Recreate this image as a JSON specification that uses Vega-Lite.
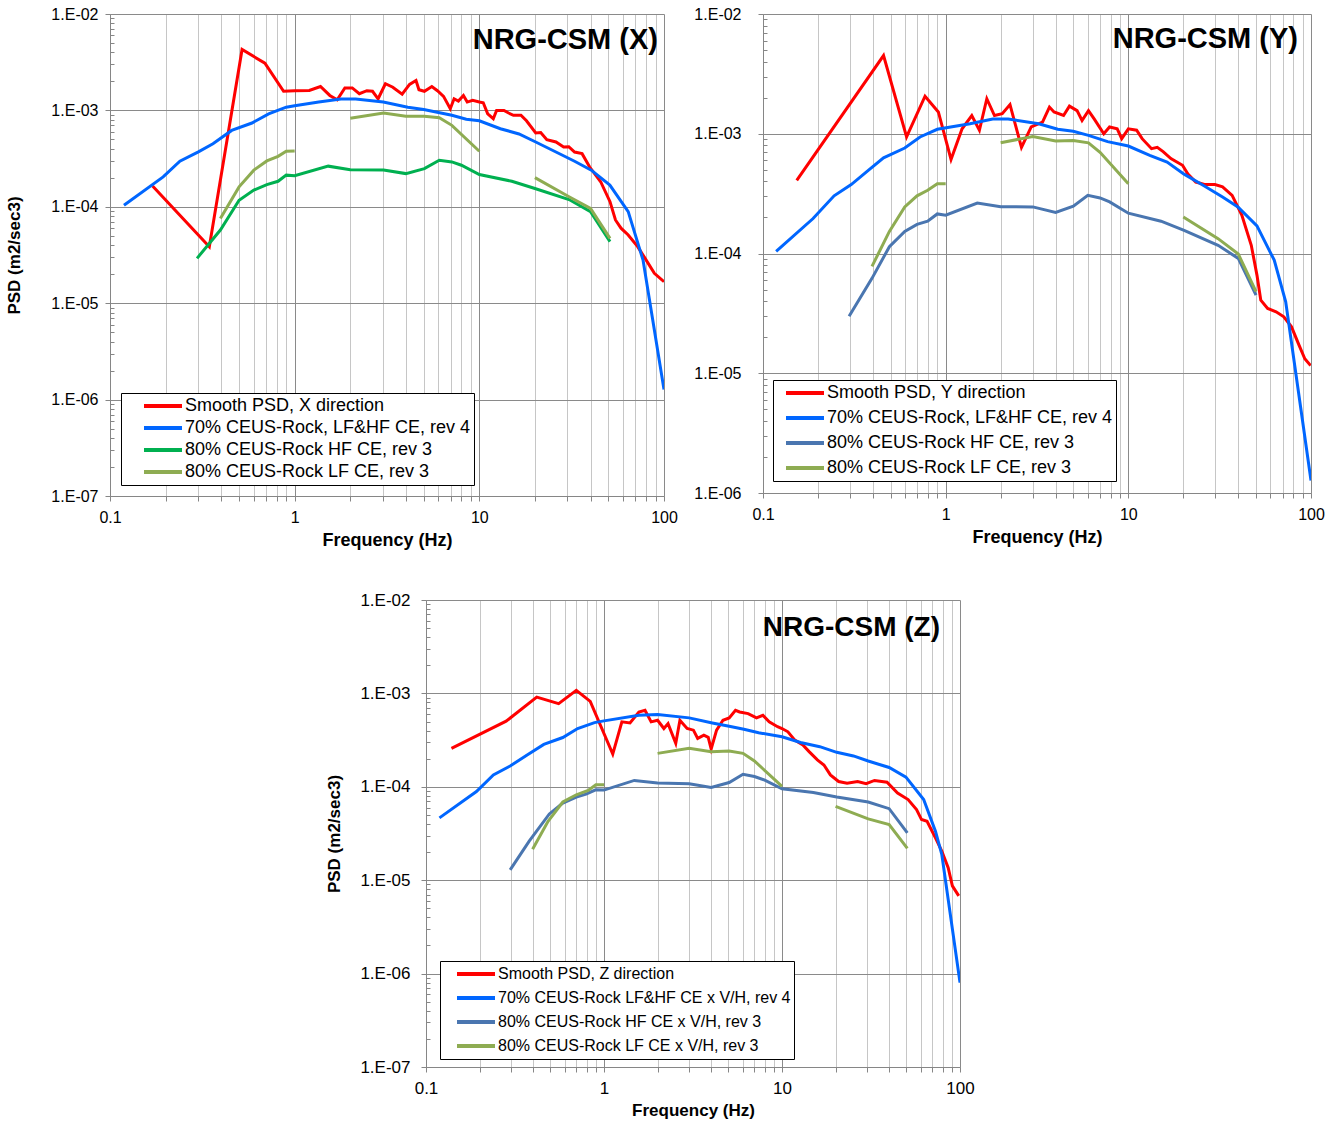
{
  "$schema": "https://vega.github.io/schema/vega-lite/v6.json",
  "background": "white",
  "padding": {"left": 5, "top": 6, "right": 5, "bottom": 5},
  "config": {
    "font": "Liberation Sans",
    "view": {"stroke": null},
    "axis": {
      "domainColor": "#868686",
      "tickColor": "#868686",
      "labelColor": "black",
      "titleColor": "black",
      "titleFontWeight": "bold",
      "labelFont": "Liberation Sans",
      "titleFont": "Liberation Sans",
      "labelOverlap": false,
      "labelFlush": false,
      "grid": true,
      "gridWidth": 1
    },
    "title": {"font": "Liberation Sans", "fontWeight": "bold", "color": "black", "anchor": "end", "frame": "group"},
    "legend": {
      "title": null,
      "orient": "none",
      "symbolType": "stroke",
      "symbolStrokeWidth": 4,
      "symbolSize": 1444,
      "strokeColor": "black",
      "fillColor": "white",
      "labelColor": "black",
      "labelFont": "Liberation Sans",
      "labelLimit": 500,
      "labelOffset": 1,
      "clipHeight": 20,
      "padding": 3
    }
  },
  "datasets": {
    "X": [
      {"s": "Smooth PSD, X direction", "g": 1, "f": 0.17, "v": 1.64e-4},
      {"s": "Smooth PSD, X direction", "g": 1, "f": 0.345, "v": 3.86e-5},
      {"s": "Smooth PSD, X direction", "g": 1, "f": 0.519, "v": 4.28e-3},
      {"s": "Smooth PSD, X direction", "g": 1, "f": 0.69, "v": 3.09e-3},
      {"s": "Smooth PSD, X direction", "g": 1, "f": 0.871, "v": 1.58e-3},
      {"s": "Smooth PSD, X direction", "g": 1, "f": 1.0, "v": 1.6e-3},
      {"s": "Smooth PSD, X direction", "g": 1, "f": 1.2, "v": 1.61e-3},
      {"s": "Smooth PSD, X direction", "g": 1, "f": 1.38, "v": 1.77e-3},
      {"s": "Smooth PSD, X direction", "g": 1, "f": 1.55, "v": 1.43e-3},
      {"s": "Smooth PSD, X direction", "g": 1, "f": 1.7, "v": 1.29e-3},
      {"s": "Smooth PSD, X direction", "g": 1, "f": 1.87, "v": 1.71e-3},
      {"s": "Smooth PSD, X direction", "g": 1, "f": 2.05, "v": 1.71e-3},
      {"s": "Smooth PSD, X direction", "g": 1, "f": 2.24, "v": 1.49e-3},
      {"s": "Smooth PSD, X direction", "g": 1, "f": 2.46, "v": 1.6e-3},
      {"s": "Smooth PSD, X direction", "g": 1, "f": 2.64, "v": 1.58e-3},
      {"s": "Smooth PSD, X direction", "g": 1, "f": 2.83, "v": 1.32e-3},
      {"s": "Smooth PSD, X direction", "g": 1, "f": 3.1, "v": 1.89e-3},
      {"s": "Smooth PSD, X direction", "g": 1, "f": 3.4, "v": 1.74e-3},
      {"s": "Smooth PSD, X direction", "g": 1, "f": 3.82, "v": 1.47e-3},
      {"s": "Smooth PSD, X direction", "g": 1, "f": 4.19, "v": 1.86e-3},
      {"s": "Smooth PSD, X direction", "g": 1, "f": 4.54, "v": 2.04e-3},
      {"s": "Smooth PSD, X direction", "g": 1, "f": 4.71, "v": 1.64e-3},
      {"s": "Smooth PSD, X direction", "g": 1, "f": 5.04, "v": 1.58e-3},
      {"s": "Smooth PSD, X direction", "g": 1, "f": 5.3, "v": 1.68e-3},
      {"s": "Smooth PSD, X direction", "g": 1, "f": 5.53, "v": 1.77e-3},
      {"s": "Smooth PSD, X direction", "g": 1, "f": 5.93, "v": 1.6e-3},
      {"s": "Smooth PSD, X direction", "g": 1, "f": 6.4, "v": 1.4e-3},
      {"s": "Smooth PSD, X direction", "g": 1, "f": 6.96, "v": 1.04e-3},
      {"s": "Smooth PSD, X direction", "g": 1, "f": 7.3, "v": 1.32e-3},
      {"s": "Smooth PSD, X direction", "g": 1, "f": 7.7, "v": 1.25e-3},
      {"s": "Smooth PSD, X direction", "g": 1, "f": 8.2, "v": 1.43e-3},
      {"s": "Smooth PSD, X direction", "g": 1, "f": 8.6, "v": 1.22e-3},
      {"s": "Smooth PSD, X direction", "g": 1, "f": 9.2, "v": 1.27e-3},
      {"s": "Smooth PSD, X direction", "g": 1, "f": 10, "v": 1.22e-3},
      {"s": "Smooth PSD, X direction", "g": 1, "f": 10.5, "v": 1.2e-3},
      {"s": "Smooth PSD, X direction", "g": 1, "f": 11.1, "v": 9.2e-4},
      {"s": "Smooth PSD, X direction", "g": 1, "f": 11.9, "v": 8.2e-4},
      {"s": "Smooth PSD, X direction", "g": 1, "f": 12.4, "v": 1.0e-3},
      {"s": "Smooth PSD, X direction", "g": 1, "f": 13.6, "v": 1.0e-3},
      {"s": "Smooth PSD, X direction", "g": 1, "f": 14.4, "v": 9.4e-4},
      {"s": "Smooth PSD, X direction", "g": 1, "f": 15.3, "v": 8.9e-4},
      {"s": "Smooth PSD, X direction", "g": 1, "f": 16.8, "v": 8.9e-4},
      {"s": "Smooth PSD, X direction", "g": 1, "f": 18, "v": 7.8e-4},
      {"s": "Smooth PSD, X direction", "g": 1, "f": 20.2, "v": 5.83e-4},
      {"s": "Smooth PSD, X direction", "g": 1, "f": 21.5, "v": 5.9e-4},
      {"s": "Smooth PSD, X direction", "g": 1, "f": 23.2, "v": 4.97e-4},
      {"s": "Smooth PSD, X direction", "g": 1, "f": 26, "v": 4.7e-4},
      {"s": "Smooth PSD, X direction", "g": 1, "f": 28.6, "v": 4.18e-4},
      {"s": "Smooth PSD, X direction", "g": 1, "f": 30.5, "v": 4.2e-4},
      {"s": "Smooth PSD, X direction", "g": 1, "f": 32.8, "v": 3.7e-4},
      {"s": "Smooth PSD, X direction", "g": 1, "f": 36, "v": 3.56e-4},
      {"s": "Smooth PSD, X direction", "g": 1, "f": 39.5, "v": 2.6e-4},
      {"s": "Smooth PSD, X direction", "g": 1, "f": 45.4, "v": 1.82e-4},
      {"s": "Smooth PSD, X direction", "g": 1, "f": 51, "v": 1.13e-4},
      {"s": "Smooth PSD, X direction", "g": 1, "f": 54.6, "v": 7.3e-5},
      {"s": "Smooth PSD, X direction", "g": 1, "f": 58.5, "v": 6.0e-5},
      {"s": "Smooth PSD, X direction", "g": 1, "f": 64, "v": 5.1e-5},
      {"s": "Smooth PSD, X direction", "g": 1, "f": 72, "v": 3.86e-5},
      {"s": "Smooth PSD, X direction", "g": 1, "f": 79, "v": 2.92e-5},
      {"s": "Smooth PSD, X direction", "g": 1, "f": 88.7, "v": 2.04e-5},
      {"s": "Smooth PSD, X direction", "g": 1, "f": 100, "v": 1.67e-5},

      {"s": "70% CEUS-Rock, LF&HF CE, rev 4", "g": 1, "f": 0.119, "v": 1.04e-4},
      {"s": "70% CEUS-Rock, LF&HF CE, rev 4", "g": 1, "f": 0.194, "v": 2.04e-4},
      {"s": "70% CEUS-Rock, LF&HF CE, rev 4", "g": 1, "f": 0.239, "v": 2.97e-4},
      {"s": "70% CEUS-Rock, LF&HF CE, rev 4", "g": 1, "f": 0.301, "v": 3.71e-4},
      {"s": "70% CEUS-Rock, LF&HF CE, rev 4", "g": 1, "f": 0.361, "v": 4.5e-4},
      {"s": "70% CEUS-Rock, LF&HF CE, rev 4", "g": 1, "f": 0.456, "v": 6.2e-4},
      {"s": "70% CEUS-Rock, LF&HF CE, rev 4", "g": 1, "f": 0.587, "v": 7.4e-4},
      {"s": "70% CEUS-Rock, LF&HF CE, rev 4", "g": 1, "f": 0.723, "v": 9.2e-4},
      {"s": "70% CEUS-Rock, LF&HF CE, rev 4", "g": 1, "f": 0.9, "v": 1.08e-3},
      {"s": "70% CEUS-Rock, LF&HF CE, rev 4", "g": 1, "f": 1.0, "v": 1.12e-3},
      {"s": "70% CEUS-Rock, LF&HF CE, rev 4", "g": 1, "f": 1.35, "v": 1.22e-3},
      {"s": "70% CEUS-Rock, LF&HF CE, rev 4", "g": 1, "f": 1.78, "v": 1.31e-3},
      {"s": "70% CEUS-Rock, LF&HF CE, rev 4", "g": 1, "f": 2.14, "v": 1.31e-3},
      {"s": "70% CEUS-Rock, LF&HF CE, rev 4", "g": 1, "f": 3.02, "v": 1.22e-3},
      {"s": "70% CEUS-Rock, LF&HF CE, rev 4", "g": 1, "f": 4.1, "v": 1.08e-3},
      {"s": "70% CEUS-Rock, LF&HF CE, rev 4", "g": 1, "f": 5.0, "v": 1.02e-3},
      {"s": "70% CEUS-Rock, LF&HF CE, rev 4", "g": 1, "f": 6.0, "v": 9.5e-4},
      {"s": "70% CEUS-Rock, LF&HF CE, rev 4", "g": 1, "f": 7.1, "v": 8.9e-4},
      {"s": "70% CEUS-Rock, LF&HF CE, rev 4", "g": 1, "f": 8.5, "v": 8.1e-4},
      {"s": "70% CEUS-Rock, LF&HF CE, rev 4", "g": 1, "f": 10, "v": 7.8e-4},
      {"s": "70% CEUS-Rock, LF&HF CE, rev 4", "g": 1, "f": 13, "v": 6.45e-4},
      {"s": "70% CEUS-Rock, LF&HF CE, rev 4", "g": 1, "f": 16.4, "v": 5.7e-4},
      {"s": "70% CEUS-Rock, LF&HF CE, rev 4", "g": 1, "f": 20.2, "v": 4.7e-4},
      {"s": "70% CEUS-Rock, LF&HF CE, rev 4", "g": 1, "f": 26, "v": 3.7e-4},
      {"s": "70% CEUS-Rock, LF&HF CE, rev 4", "g": 1, "f": 32.8, "v": 2.97e-4},
      {"s": "70% CEUS-Rock, LF&HF CE, rev 4", "g": 1, "f": 40.4, "v": 2.4e-4},
      {"s": "70% CEUS-Rock, LF&HF CE, rev 4", "g": 1, "f": 50.9, "v": 1.68e-4},
      {"s": "70% CEUS-Rock, LF&HF CE, rev 4", "g": 1, "f": 64, "v": 8.9e-5},
      {"s": "70% CEUS-Rock, LF&HF CE, rev 4", "g": 1, "f": 77, "v": 2.8e-5},
      {"s": "70% CEUS-Rock, LF&HF CE, rev 4", "g": 1, "f": 100, "v": 1.27e-6},

      {"s": "80% CEUS-Rock HF CE, rev 3", "g": 1, "f": 0.296, "v": 2.92e-5},
      {"s": "80% CEUS-Rock HF CE, rev 3", "g": 1, "f": 0.396, "v": 5.74e-5},
      {"s": "80% CEUS-Rock HF CE, rev 3", "g": 1, "f": 0.5, "v": 1.17e-4},
      {"s": "80% CEUS-Rock HF CE, rev 3", "g": 1, "f": 0.601, "v": 1.49e-4},
      {"s": "80% CEUS-Rock HF CE, rev 3", "g": 1, "f": 0.707, "v": 1.7e-4},
      {"s": "80% CEUS-Rock HF CE, rev 3", "g": 1, "f": 0.813, "v": 1.84e-4},
      {"s": "80% CEUS-Rock HF CE, rev 3", "g": 1, "f": 0.9, "v": 2.13e-4},
      {"s": "80% CEUS-Rock HF CE, rev 3", "g": 1, "f": 1.0, "v": 2.1e-4},
      {"s": "80% CEUS-Rock HF CE, rev 3", "g": 1, "f": 1.52, "v": 2.64e-4},
      {"s": "80% CEUS-Rock HF CE, rev 3", "g": 1, "f": 2.0, "v": 2.43e-4},
      {"s": "80% CEUS-Rock HF CE, rev 3", "g": 1, "f": 3.03, "v": 2.41e-4},
      {"s": "80% CEUS-Rock HF CE, rev 3", "g": 1, "f": 4.0, "v": 2.21e-4},
      {"s": "80% CEUS-Rock HF CE, rev 3", "g": 1, "f": 5.04, "v": 2.49e-4},
      {"s": "80% CEUS-Rock HF CE, rev 3", "g": 1, "f": 6.07, "v": 3.04e-4},
      {"s": "80% CEUS-Rock HF CE, rev 3", "g": 1, "f": 7.1, "v": 2.92e-4},
      {"s": "80% CEUS-Rock HF CE, rev 3", "g": 1, "f": 8.0, "v": 2.7e-4},
      {"s": "80% CEUS-Rock HF CE, rev 3", "g": 1, "f": 10, "v": 2.16e-4},
      {"s": "80% CEUS-Rock HF CE, rev 3", "g": 1, "f": 15, "v": 1.84e-4},
      {"s": "80% CEUS-Rock HF CE, rev 3", "g": 1, "f": 20, "v": 1.55e-4},
      {"s": "80% CEUS-Rock HF CE, rev 3", "g": 1, "f": 30.6, "v": 1.19e-4},
      {"s": "80% CEUS-Rock HF CE, rev 3", "g": 1, "f": 40, "v": 8.9e-5},
      {"s": "80% CEUS-Rock HF CE, rev 3", "g": 1, "f": 51, "v": 4.35e-5},

      {"s": "80% CEUS-Rock LF CE, rev 3", "g": 1, "f": 0.396, "v": 7.57e-5},
      {"s": "80% CEUS-Rock LF CE, rev 3", "g": 1, "f": 0.5, "v": 1.61e-4},
      {"s": "80% CEUS-Rock LF CE, rev 3", "g": 1, "f": 0.601, "v": 2.4e-4},
      {"s": "80% CEUS-Rock LF CE, rev 3", "g": 1, "f": 0.707, "v": 2.99e-4},
      {"s": "80% CEUS-Rock LF CE, rev 3", "g": 1, "f": 0.813, "v": 3.34e-4},
      {"s": "80% CEUS-Rock LF CE, rev 3", "g": 1, "f": 0.9, "v": 3.77e-4},
      {"s": "80% CEUS-Rock LF CE, rev 3", "g": 1, "f": 1.0, "v": 3.8e-4},
      {"s": "80% CEUS-Rock LF CE, rev 3", "g": 2, "f": 2.0, "v": 8.3e-4},
      {"s": "80% CEUS-Rock LF CE, rev 3", "g": 2, "f": 3.03, "v": 9.4e-4},
      {"s": "80% CEUS-Rock LF CE, rev 3", "g": 2, "f": 4.0, "v": 8.7e-4},
      {"s": "80% CEUS-Rock LF CE, rev 3", "g": 2, "f": 5.04, "v": 8.7e-4},
      {"s": "80% CEUS-Rock LF CE, rev 3", "g": 2, "f": 6.07, "v": 8.4e-4},
      {"s": "80% CEUS-Rock LF CE, rev 3", "g": 2, "f": 7.1, "v": 7.0e-4},
      {"s": "80% CEUS-Rock LF CE, rev 3", "g": 2, "f": 10, "v": 3.77e-4},
      {"s": "80% CEUS-Rock LF CE, rev 3", "g": 3, "f": 20, "v": 2.01e-4},
      {"s": "80% CEUS-Rock LF CE, rev 3", "g": 3, "f": 30.6, "v": 1.27e-4},
      {"s": "80% CEUS-Rock LF CE, rev 3", "g": 3, "f": 40, "v": 9.6e-5},
      {"s": "80% CEUS-Rock LF CE, rev 3", "g": 3, "f": 51, "v": 4.7e-5}
    ],
    "Y": [
      {"s": "Smooth PSD, Y direction", "g": 1, "f": 0.153, "v": 4.08e-4},
      {"s": "Smooth PSD, Y direction", "g": 1, "f": 0.457, "v": 4.5e-3},
      {"s": "Smooth PSD, Y direction", "g": 1, "f": 0.611, "v": 9.4e-4},
      {"s": "Smooth PSD, Y direction", "g": 1, "f": 0.771, "v": 2.06e-3},
      {"s": "Smooth PSD, Y direction", "g": 1, "f": 0.912, "v": 1.52e-3},
      {"s": "Smooth PSD, Y direction", "g": 1, "f": 1.07, "v": 6.1e-4},
      {"s": "Smooth PSD, Y direction", "g": 1, "f": 1.23, "v": 1.1e-3},
      {"s": "Smooth PSD, Y direction", "g": 1, "f": 1.39, "v": 1.42e-3},
      {"s": "Smooth PSD, Y direction", "g": 1, "f": 1.53, "v": 1.07e-3},
      {"s": "Smooth PSD, Y direction", "g": 1, "f": 1.68, "v": 1.96e-3},
      {"s": "Smooth PSD, Y direction", "g": 1, "f": 1.85, "v": 1.42e-3},
      {"s": "Smooth PSD, Y direction", "g": 1, "f": 2.04, "v": 1.47e-3},
      {"s": "Smooth PSD, Y direction", "g": 1, "f": 2.25, "v": 1.75e-3},
      {"s": "Smooth PSD, Y direction", "g": 1, "f": 2.6, "v": 7.7e-4},
      {"s": "Smooth PSD, Y direction", "g": 1, "f": 2.94, "v": 1.14e-3},
      {"s": "Smooth PSD, Y direction", "g": 1, "f": 3.39, "v": 1.25e-3},
      {"s": "Smooth PSD, Y direction", "g": 1, "f": 3.7, "v": 1.67e-3},
      {"s": "Smooth PSD, Y direction", "g": 1, "f": 3.92, "v": 1.52e-3},
      {"s": "Smooth PSD, Y direction", "g": 1, "f": 4.42, "v": 1.42e-3},
      {"s": "Smooth PSD, Y direction", "g": 1, "f": 4.76, "v": 1.7e-3},
      {"s": "Smooth PSD, Y direction", "g": 1, "f": 5.24, "v": 1.56e-3},
      {"s": "Smooth PSD, Y direction", "g": 1, "f": 5.58, "v": 1.29e-3},
      {"s": "Smooth PSD, Y direction", "g": 1, "f": 6.05, "v": 1.56e-3},
      {"s": "Smooth PSD, Y direction", "g": 1, "f": 6.5, "v": 1.33e-3},
      {"s": "Smooth PSD, Y direction", "g": 1, "f": 7.34, "v": 1.0e-3},
      {"s": "Smooth PSD, Y direction", "g": 1, "f": 7.89, "v": 1.14e-3},
      {"s": "Smooth PSD, Y direction", "g": 1, "f": 8.69, "v": 1.1e-3},
      {"s": "Smooth PSD, Y direction", "g": 1, "f": 9.2, "v": 9.1e-4},
      {"s": "Smooth PSD, Y direction", "g": 1, "f": 10, "v": 1.1e-3},
      {"s": "Smooth PSD, Y direction", "g": 1, "f": 11.1, "v": 1.07e-3},
      {"s": "Smooth PSD, Y direction", "g": 1, "f": 11.9, "v": 9.1e-4},
      {"s": "Smooth PSD, Y direction", "g": 1, "f": 13.4, "v": 7.5e-4},
      {"s": "Smooth PSD, Y direction", "g": 1, "f": 14.4, "v": 7.7e-4},
      {"s": "Smooth PSD, Y direction", "g": 1, "f": 15.5, "v": 7.1e-4},
      {"s": "Smooth PSD, Y direction", "g": 1, "f": 17.1, "v": 6.2e-4},
      {"s": "Smooth PSD, Y direction", "g": 1, "f": 19.8, "v": 5.45e-4},
      {"s": "Smooth PSD, Y direction", "g": 1, "f": 21.2, "v": 4.6e-4},
      {"s": "Smooth PSD, Y direction", "g": 1, "f": 23.4, "v": 3.95e-4},
      {"s": "Smooth PSD, Y direction", "g": 1, "f": 26.4, "v": 3.76e-4},
      {"s": "Smooth PSD, Y direction", "g": 1, "f": 29.8, "v": 3.76e-4},
      {"s": "Smooth PSD, Y direction", "g": 1, "f": 32.8, "v": 3.6e-4},
      {"s": "Smooth PSD, Y direction", "g": 1, "f": 37, "v": 3.06e-4},
      {"s": "Smooth PSD, Y direction", "g": 1, "f": 41.8, "v": 2.09e-4},
      {"s": "Smooth PSD, Y direction", "g": 1, "f": 47.1, "v": 1.17e-4},
      {"s": "Smooth PSD, Y direction", "g": 1, "f": 50.6, "v": 6.6e-5},
      {"s": "Smooth PSD, Y direction", "g": 1, "f": 53.1, "v": 4.08e-5},
      {"s": "Smooth PSD, Y direction", "g": 1, "f": 57.9, "v": 3.48e-5},
      {"s": "Smooth PSD, Y direction", "g": 1, "f": 64.4, "v": 3.26e-5},
      {"s": "Smooth PSD, Y direction", "g": 1, "f": 71, "v": 2.96e-5},
      {"s": "Smooth PSD, Y direction", "g": 1, "f": 78.2, "v": 2.44e-5},
      {"s": "Smooth PSD, Y direction", "g": 1, "f": 86.1, "v": 1.71e-5},
      {"s": "Smooth PSD, Y direction", "g": 1, "f": 92.5, "v": 1.32e-5},
      {"s": "Smooth PSD, Y direction", "g": 1, "f": 99.5, "v": 1.16e-5},

      {"s": "70% CEUS-Rock, LF&HF CE, rev 4", "g": 1, "f": 0.118, "v": 1.04e-4},
      {"s": "70% CEUS-Rock, LF&HF CE, rev 4", "g": 1, "f": 0.188, "v": 1.96e-4},
      {"s": "70% CEUS-Rock, LF&HF CE, rev 4", "g": 1, "f": 0.245, "v": 3.03e-4},
      {"s": "70% CEUS-Rock, LF&HF CE, rev 4", "g": 1, "f": 0.304, "v": 3.76e-4},
      {"s": "70% CEUS-Rock, LF&HF CE, rev 4", "g": 1, "f": 0.377, "v": 4.95e-4},
      {"s": "70% CEUS-Rock, LF&HF CE, rev 4", "g": 1, "f": 0.457, "v": 6.3e-4},
      {"s": "70% CEUS-Rock, LF&HF CE, rev 4", "g": 1, "f": 0.597, "v": 7.6e-4},
      {"s": "70% CEUS-Rock, LF&HF CE, rev 4", "g": 1, "f": 0.724, "v": 9.4e-4},
      {"s": "70% CEUS-Rock, LF&HF CE, rev 4", "g": 1, "f": 0.9, "v": 1.09e-3},
      {"s": "70% CEUS-Rock, LF&HF CE, rev 4", "g": 1, "f": 1.36, "v": 1.21e-3},
      {"s": "70% CEUS-Rock, LF&HF CE, rev 4", "g": 1, "f": 1.81, "v": 1.33e-3},
      {"s": "70% CEUS-Rock, LF&HF CE, rev 4", "g": 1, "f": 2.2, "v": 1.33e-3},
      {"s": "70% CEUS-Rock, LF&HF CE, rev 4", "g": 1, "f": 3.23, "v": 1.21e-3},
      {"s": "70% CEUS-Rock, LF&HF CE, rev 4", "g": 1, "f": 4.11, "v": 1.09e-3},
      {"s": "70% CEUS-Rock, LF&HF CE, rev 4", "g": 1, "f": 4.99, "v": 1.05e-3},
      {"s": "70% CEUS-Rock, LF&HF CE, rev 4", "g": 1, "f": 6.05, "v": 9.7e-4},
      {"s": "70% CEUS-Rock, LF&HF CE, rev 4", "g": 1, "f": 7.7, "v": 8.6e-4},
      {"s": "70% CEUS-Rock, LF&HF CE, rev 4", "g": 1, "f": 10, "v": 7.9e-4},
      {"s": "70% CEUS-Rock, LF&HF CE, rev 4", "g": 1, "f": 13.1, "v": 6.6e-4},
      {"s": "70% CEUS-Rock, LF&HF CE, rev 4", "g": 1, "f": 16.3, "v": 5.8e-4},
      {"s": "70% CEUS-Rock, LF&HF CE, rev 4", "g": 1, "f": 20.2, "v": 4.6e-4},
      {"s": "70% CEUS-Rock, LF&HF CE, rev 4", "g": 1, "f": 25.8, "v": 3.7e-4},
      {"s": "70% CEUS-Rock, LF&HF CE, rev 4", "g": 1, "f": 32.8, "v": 2.96e-4},
      {"s": "70% CEUS-Rock, LF&HF CE, rev 4", "g": 1, "f": 39.8, "v": 2.45e-4},
      {"s": "70% CEUS-Rock, LF&HF CE, rev 4", "g": 1, "f": 50.6, "v": 1.7e-4},
      {"s": "70% CEUS-Rock, LF&HF CE, rev 4", "g": 1, "f": 62.9, "v": 8.8e-5},
      {"s": "70% CEUS-Rock, LF&HF CE, rev 4", "g": 1, "f": 72.7, "v": 3.95e-5},
      {"s": "70% CEUS-Rock, LF&HF CE, rev 4", "g": 1, "f": 100, "v": 1.27e-6},

      {"s": "80% CEUS-Rock HF CE, rev 3", "g": 1, "f": 0.296, "v": 2.99e-5},
      {"s": "80% CEUS-Rock HF CE, rev 3", "g": 1, "f": 0.395, "v": 6.2e-5},
      {"s": "80% CEUS-Rock HF CE, rev 3", "g": 1, "f": 0.492, "v": 1.14e-4},
      {"s": "80% CEUS-Rock HF CE, rev 3", "g": 1, "f": 0.597, "v": 1.53e-4},
      {"s": "80% CEUS-Rock HF CE, rev 3", "g": 1, "f": 0.697, "v": 1.75e-4},
      {"s": "80% CEUS-Rock HF CE, rev 3", "g": 1, "f": 0.797, "v": 1.86e-4},
      {"s": "80% CEUS-Rock HF CE, rev 3", "g": 1, "f": 0.9, "v": 2.14e-4},
      {"s": "80% CEUS-Rock HF CE, rev 3", "g": 1, "f": 1.0, "v": 2.09e-4},
      {"s": "80% CEUS-Rock HF CE, rev 3", "g": 1, "f": 1.49, "v": 2.64e-4},
      {"s": "80% CEUS-Rock HF CE, rev 3", "g": 1, "f": 2.0, "v": 2.46e-4},
      {"s": "80% CEUS-Rock HF CE, rev 3", "g": 1, "f": 3.0, "v": 2.45e-4},
      {"s": "80% CEUS-Rock HF CE, rev 3", "g": 1, "f": 4.0, "v": 2.2e-4},
      {"s": "80% CEUS-Rock HF CE, rev 3", "g": 1, "f": 5.0, "v": 2.48e-4},
      {"s": "80% CEUS-Rock HF CE, rev 3", "g": 1, "f": 6.0, "v": 3.06e-4},
      {"s": "80% CEUS-Rock HF CE, rev 3", "g": 1, "f": 7.0, "v": 2.91e-4},
      {"s": "80% CEUS-Rock HF CE, rev 3", "g": 1, "f": 7.9, "v": 2.7e-4},
      {"s": "80% CEUS-Rock HF CE, rev 3", "g": 1, "f": 10, "v": 2.17e-4},
      {"s": "80% CEUS-Rock HF CE, rev 3", "g": 1, "f": 15.1, "v": 1.86e-4},
      {"s": "80% CEUS-Rock HF CE, rev 3", "g": 1, "f": 20.2, "v": 1.56e-4},
      {"s": "80% CEUS-Rock HF CE, rev 3", "g": 1, "f": 31, "v": 1.17e-4},
      {"s": "80% CEUS-Rock HF CE, rev 3", "g": 1, "f": 40, "v": 9.1e-5},
      {"s": "80% CEUS-Rock HF CE, rev 3", "g": 1, "f": 50, "v": 4.5e-5},

      {"s": "80% CEUS-Rock LF CE, rev 3", "g": 1, "f": 0.395, "v": 7.8e-5},
      {"s": "80% CEUS-Rock LF CE, rev 3", "g": 1, "f": 0.492, "v": 1.53e-4},
      {"s": "80% CEUS-Rock LF CE, rev 3", "g": 1, "f": 0.597, "v": 2.45e-4},
      {"s": "80% CEUS-Rock LF CE, rev 3", "g": 1, "f": 0.697, "v": 3.03e-4},
      {"s": "80% CEUS-Rock LF CE, rev 3", "g": 1, "f": 0.797, "v": 3.37e-4},
      {"s": "80% CEUS-Rock LF CE, rev 3", "g": 1, "f": 0.9, "v": 3.83e-4},
      {"s": "80% CEUS-Rock LF CE, rev 3", "g": 1, "f": 1.0, "v": 3.83e-4},
      {"s": "80% CEUS-Rock LF CE, rev 3", "g": 2, "f": 2.0, "v": 8.4e-4},
      {"s": "80% CEUS-Rock LF CE, rev 3", "g": 2, "f": 3.0, "v": 9.5e-4},
      {"s": "80% CEUS-Rock LF CE, rev 3", "g": 2, "f": 4.0, "v": 8.7e-4},
      {"s": "80% CEUS-Rock LF CE, rev 3", "g": 2, "f": 5.0, "v": 8.8e-4},
      {"s": "80% CEUS-Rock LF CE, rev 3", "g": 2, "f": 6.05, "v": 8.4e-4},
      {"s": "80% CEUS-Rock LF CE, rev 3", "g": 2, "f": 7.0, "v": 7.0e-4},
      {"s": "80% CEUS-Rock LF CE, rev 3", "g": 2, "f": 10, "v": 3.83e-4},
      {"s": "80% CEUS-Rock LF CE, rev 3", "g": 3, "f": 20, "v": 2.02e-4},
      {"s": "80% CEUS-Rock LF CE, rev 3", "g": 3, "f": 31, "v": 1.33e-4},
      {"s": "80% CEUS-Rock LF CE, rev 3", "g": 3, "f": 40, "v": 9.9e-5},
      {"s": "80% CEUS-Rock LF CE, rev 3", "g": 3, "f": 50, "v": 4.8e-5}
    ],
    "Z": [
      {"s": "Smooth PSD, Z direction", "g": 1, "f": 0.139, "v": 2.58e-4},
      {"s": "Smooth PSD, Z direction", "g": 1, "f": 0.282, "v": 5.04e-4},
      {"s": "Smooth PSD, Z direction", "g": 1, "f": 0.419, "v": 9.14e-4},
      {"s": "Smooth PSD, Z direction", "g": 1, "f": 0.556, "v": 7.76e-4},
      {"s": "Smooth PSD, Z direction", "g": 1, "f": 0.699, "v": 1.08e-3},
      {"s": "Smooth PSD, Z direction", "g": 1, "f": 0.837, "v": 8.22e-4},
      {"s": "Smooth PSD, Z direction", "g": 1, "f": 1.12, "v": 2.24e-4},
      {"s": "Smooth PSD, Z direction", "g": 1, "f": 1.26, "v": 4.96e-4},
      {"s": "Smooth PSD, Z direction", "g": 1, "f": 1.4, "v": 4.83e-4},
      {"s": "Smooth PSD, Z direction", "g": 1, "f": 1.57, "v": 6.33e-4},
      {"s": "Smooth PSD, Z direction", "g": 1, "f": 1.7, "v": 6.59e-4},
      {"s": "Smooth PSD, Z direction", "g": 1, "f": 1.84, "v": 4.96e-4},
      {"s": "Smooth PSD, Z direction", "g": 1, "f": 2.0, "v": 5.16e-4},
      {"s": "Smooth PSD, Z direction", "g": 1, "f": 2.17, "v": 4.21e-4},
      {"s": "Smooth PSD, Z direction", "g": 1, "f": 2.29, "v": 4.75e-4},
      {"s": "Smooth PSD, Z direction", "g": 1, "f": 2.53, "v": 2.92e-4},
      {"s": "Smooth PSD, Z direction", "g": 1, "f": 2.67, "v": 5.16e-4},
      {"s": "Smooth PSD, Z direction", "g": 1, "f": 2.93, "v": 4.21e-4},
      {"s": "Smooth PSD, Z direction", "g": 1, "f": 3.18, "v": 4.04e-4},
      {"s": "Smooth PSD, Z direction", "g": 1, "f": 3.36, "v": 3.3e-4},
      {"s": "Smooth PSD, Z direction", "g": 1, "f": 3.64, "v": 3.57e-4},
      {"s": "Smooth PSD, Z direction", "g": 1, "f": 3.85, "v": 3.38e-4},
      {"s": "Smooth PSD, Z direction", "g": 1, "f": 4.0, "v": 2.54e-4},
      {"s": "Smooth PSD, Z direction", "g": 1, "f": 4.29, "v": 4.04e-4},
      {"s": "Smooth PSD, Z direction", "g": 1, "f": 4.66, "v": 5.16e-4},
      {"s": "Smooth PSD, Z direction", "g": 1, "f": 5.05, "v": 5.47e-4},
      {"s": "Smooth PSD, Z direction", "g": 1, "f": 5.48, "v": 6.59e-4},
      {"s": "Smooth PSD, Z direction", "g": 1, "f": 5.78, "v": 6.33e-4},
      {"s": "Smooth PSD, Z direction", "g": 1, "f": 6.45, "v": 6.08e-4},
      {"s": "Smooth PSD, Z direction", "g": 1, "f": 7.19, "v": 5.47e-4},
      {"s": "Smooth PSD, Z direction", "g": 1, "f": 7.81, "v": 5.83e-4},
      {"s": "Smooth PSD, Z direction", "g": 1, "f": 8.47, "v": 4.96e-4},
      {"s": "Smooth PSD, Z direction", "g": 1, "f": 9.44, "v": 4.4e-4},
      {"s": "Smooth PSD, Z direction", "g": 1, "f": 10, "v": 4.21e-4},
      {"s": "Smooth PSD, Z direction", "g": 1, "f": 10.8, "v": 3.88e-4},
      {"s": "Smooth PSD, Z direction", "g": 1, "f": 11.8, "v": 3.16e-4},
      {"s": "Smooth PSD, Z direction", "g": 1, "f": 13.1, "v": 2.8e-4},
      {"s": "Smooth PSD, Z direction", "g": 1, "f": 14.2, "v": 2.38e-4},
      {"s": "Smooth PSD, Z direction", "g": 1, "f": 15.8, "v": 1.94e-4},
      {"s": "Smooth PSD, Z direction", "g": 1, "f": 17.2, "v": 1.71e-4},
      {"s": "Smooth PSD, Z direction", "g": 1, "f": 18.7, "v": 1.34e-4},
      {"s": "Smooth PSD, Z direction", "g": 1, "f": 20.8, "v": 1.14e-4},
      {"s": "Smooth PSD, Z direction", "g": 1, "f": 23.2, "v": 1.09e-4},
      {"s": "Smooth PSD, Z direction", "g": 1, "f": 26.6, "v": 1.14e-4},
      {"s": "Smooth PSD, Z direction", "g": 1, "f": 29.7, "v": 1.08e-4},
      {"s": "Smooth PSD, Z direction", "g": 1, "f": 33.1, "v": 1.17e-4},
      {"s": "Smooth PSD, Z direction", "g": 1, "f": 38.9, "v": 1.12e-4},
      {"s": "Smooth PSD, Z direction", "g": 1, "f": 44.6, "v": 8.57e-5},
      {"s": "Smooth PSD, Z direction", "g": 1, "f": 51.1, "v": 7.3e-5},
      {"s": "Smooth PSD, Z direction", "g": 1, "f": 57, "v": 5.7e-5},
      {"s": "Smooth PSD, Z direction", "g": 1, "f": 60.8, "v": 4.46e-5},
      {"s": "Smooth PSD, Z direction", "g": 1, "f": 65.3, "v": 4.28e-5},
      {"s": "Smooth PSD, Z direction", "g": 1, "f": 72.8, "v": 2.84e-5},
      {"s": "Smooth PSD, Z direction", "g": 1, "f": 79, "v": 2.05e-5},
      {"s": "Smooth PSD, Z direction", "g": 1, "f": 85.8, "v": 1.36e-5},
      {"s": "Smooth PSD, Z direction", "g": 1, "f": 90.6, "v": 8.7e-6},
      {"s": "Smooth PSD, Z direction", "g": 1, "f": 98.4, "v": 6.8e-6},

      {"s": "70% CEUS-Rock LF&HF CE x V/H, rev 4", "g": 1, "f": 0.119, "v": 4.65e-5},
      {"s": "70% CEUS-Rock LF&HF CE x V/H, rev 4", "g": 1, "f": 0.192, "v": 8.9e-5},
      {"s": "70% CEUS-Rock LF&HF CE x V/H, rev 4", "g": 1, "f": 0.239, "v": 1.34e-4},
      {"s": "70% CEUS-Rock LF&HF CE x V/H, rev 4", "g": 1, "f": 0.297, "v": 1.67e-4},
      {"s": "70% CEUS-Rock LF&HF CE x V/H, rev 4", "g": 1, "f": 0.37, "v": 2.19e-4},
      {"s": "70% CEUS-Rock LF&HF CE x V/H, rev 4", "g": 1, "f": 0.459, "v": 2.84e-4},
      {"s": "70% CEUS-Rock LF&HF CE x V/H, rev 4", "g": 1, "f": 0.587, "v": 3.37e-4},
      {"s": "70% CEUS-Rock LF&HF CE x V/H, rev 4", "g": 1, "f": 0.711, "v": 4.2e-4},
      {"s": "70% CEUS-Rock LF&HF CE x V/H, rev 4", "g": 1, "f": 0.884, "v": 4.87e-4},
      {"s": "70% CEUS-Rock LF&HF CE x V/H, rev 4", "g": 1, "f": 1.0, "v": 5.08e-4},
      {"s": "70% CEUS-Rock LF&HF CE x V/H, rev 4", "g": 1, "f": 1.57, "v": 5.83e-4},
      {"s": "70% CEUS-Rock LF&HF CE x V/H, rev 4", "g": 1, "f": 2.0, "v": 5.93e-4},
      {"s": "70% CEUS-Rock LF&HF CE x V/H, rev 4", "g": 1, "f": 3.01, "v": 5.47e-4},
      {"s": "70% CEUS-Rock LF&HF CE x V/H, rev 4", "g": 1, "f": 4.06, "v": 4.83e-4},
      {"s": "70% CEUS-Rock LF&HF CE x V/H, rev 4", "g": 1, "f": 5.05, "v": 4.45e-4},
      {"s": "70% CEUS-Rock LF&HF CE x V/H, rev 4", "g": 1, "f": 6.11, "v": 4.14e-4},
      {"s": "70% CEUS-Rock LF&HF CE x V/H, rev 4", "g": 1, "f": 7.39, "v": 3.79e-4},
      {"s": "70% CEUS-Rock LF&HF CE x V/H, rev 4", "g": 1, "f": 10, "v": 3.43e-4},
      {"s": "70% CEUS-Rock LF&HF CE x V/H, rev 4", "g": 1, "f": 12.7, "v": 2.98e-4},
      {"s": "70% CEUS-Rock LF&HF CE x V/H, rev 4", "g": 1, "f": 16.3, "v": 2.69e-4},
      {"s": "70% CEUS-Rock LF&HF CE x V/H, rev 4", "g": 1, "f": 20.3, "v": 2.34e-4},
      {"s": "70% CEUS-Rock LF&HF CE x V/H, rev 4", "g": 1, "f": 25.2, "v": 2.14e-4},
      {"s": "70% CEUS-Rock LF&HF CE x V/H, rev 4", "g": 1, "f": 30.5, "v": 1.89e-4},
      {"s": "70% CEUS-Rock LF&HF CE x V/H, rev 4", "g": 1, "f": 40, "v": 1.61e-4},
      {"s": "70% CEUS-Rock LF&HF CE x V/H, rev 4", "g": 1, "f": 49.7, "v": 1.27e-4},
      {"s": "70% CEUS-Rock LF&HF CE x V/H, rev 4", "g": 1, "f": 62.5, "v": 7.3e-5},
      {"s": "70% CEUS-Rock LF&HF CE x V/H, rev 4", "g": 1, "f": 72.8, "v": 3.35e-5},
      {"s": "70% CEUS-Rock LF&HF CE x V/H, rev 4", "g": 1, "f": 79, "v": 1.89e-5},
      {"s": "70% CEUS-Rock LF&HF CE x V/H, rev 4", "g": 1, "f": 100, "v": 8.0e-7},

      {"s": "80% CEUS-Rock HF CE x V/H, rev 3", "g": 1, "f": 0.297, "v": 1.29e-5},
      {"s": "80% CEUS-Rock HF CE x V/H, rev 3", "g": 1, "f": 0.38, "v": 2.62e-5},
      {"s": "80% CEUS-Rock HF CE x V/H, rev 3", "g": 1, "f": 0.493, "v": 5.12e-5},
      {"s": "80% CEUS-Rock HF CE x V/H, rev 3", "g": 1, "f": 0.587, "v": 6.7e-5},
      {"s": "80% CEUS-Rock HF CE x V/H, rev 3", "g": 1, "f": 0.699, "v": 7.76e-5},
      {"s": "80% CEUS-Rock HF CE x V/H, rev 3", "g": 1, "f": 0.793, "v": 8.36e-5},
      {"s": "80% CEUS-Rock HF CE x V/H, rev 3", "g": 1, "f": 0.898, "v": 9.29e-5},
      {"s": "80% CEUS-Rock HF CE x V/H, rev 3", "g": 1, "f": 1.0, "v": 9.22e-5},
      {"s": "80% CEUS-Rock HF CE x V/H, rev 3", "g": 1, "f": 1.48, "v": 1.17e-4},
      {"s": "80% CEUS-Rock HF CE x V/H, rev 3", "g": 1, "f": 2.0, "v": 1.1e-4},
      {"s": "80% CEUS-Rock HF CE x V/H, rev 3", "g": 1, "f": 3.01, "v": 1.08e-4},
      {"s": "80% CEUS-Rock HF CE x V/H, rev 3", "g": 1, "f": 4.0, "v": 9.84e-5},
      {"s": "80% CEUS-Rock HF CE x V/H, rev 3", "g": 1, "f": 5.05, "v": 1.11e-4},
      {"s": "80% CEUS-Rock HF CE x V/H, rev 3", "g": 1, "f": 6.04, "v": 1.36e-4},
      {"s": "80% CEUS-Rock HF CE x V/H, rev 3", "g": 1, "f": 7.0, "v": 1.29e-4},
      {"s": "80% CEUS-Rock HF CE x V/H, rev 3", "g": 1, "f": 8.0, "v": 1.18e-4},
      {"s": "80% CEUS-Rock HF CE x V/H, rev 3", "g": 1, "f": 10, "v": 9.53e-5},
      {"s": "80% CEUS-Rock HF CE x V/H, rev 3", "g": 1, "f": 15, "v": 8.7e-5},
      {"s": "80% CEUS-Rock HF CE x V/H, rev 3", "g": 1, "f": 20.3, "v": 7.76e-5},
      {"s": "80% CEUS-Rock HF CE x V/H, rev 3", "g": 1, "f": 30.5, "v": 6.87e-5},
      {"s": "80% CEUS-Rock HF CE x V/H, rev 3", "g": 1, "f": 40, "v": 5.83e-5},
      {"s": "80% CEUS-Rock HF CE x V/H, rev 3", "g": 1, "f": 50.6, "v": 3.21e-5},

      {"s": "80% CEUS-Rock LF CE x V/H, rev 3", "g": 1, "f": 0.397, "v": 2.14e-5},
      {"s": "80% CEUS-Rock LF CE x V/H, rev 3", "g": 1, "f": 0.485, "v": 4.28e-5},
      {"s": "80% CEUS-Rock LF CE x V/H, rev 3", "g": 1, "f": 0.587, "v": 6.87e-5},
      {"s": "80% CEUS-Rock LF CE x V/H, rev 3", "g": 1, "f": 0.699, "v": 8.22e-5},
      {"s": "80% CEUS-Rock LF CE x V/H, rev 3", "g": 1, "f": 0.815, "v": 9.14e-5},
      {"s": "80% CEUS-Rock LF CE x V/H, rev 3", "g": 1, "f": 0.9, "v": 1.05e-4},
      {"s": "80% CEUS-Rock LF CE x V/H, rev 3", "g": 1, "f": 1.0, "v": 1.05e-4},
      {"s": "80% CEUS-Rock LF CE x V/H, rev 3", "g": 2, "f": 2.0, "v": 2.28e-4},
      {"s": "80% CEUS-Rock LF CE x V/H, rev 3", "g": 2, "f": 3.01, "v": 2.58e-4},
      {"s": "80% CEUS-Rock LF CE x V/H, rev 3", "g": 2, "f": 4.0, "v": 2.38e-4},
      {"s": "80% CEUS-Rock LF CE x V/H, rev 3", "g": 2, "f": 5.05, "v": 2.42e-4},
      {"s": "80% CEUS-Rock LF CE x V/H, rev 3", "g": 2, "f": 6.04, "v": 2.28e-4},
      {"s": "80% CEUS-Rock LF CE x V/H, rev 3", "g": 2, "f": 7.0, "v": 1.89e-4},
      {"s": "80% CEUS-Rock LF CE x V/H, rev 3", "g": 2, "f": 10, "v": 1.01e-4},
      {"s": "80% CEUS-Rock LF CE x V/H, rev 3", "g": 3, "f": 20, "v": 6.18e-5},
      {"s": "80% CEUS-Rock LF CE x V/H, rev 3", "g": 3, "f": 30.5, "v": 4.53e-5},
      {"s": "80% CEUS-Rock LF CE x V/H, rev 3", "g": 3, "f": 40, "v": 3.94e-5},
      {"s": "80% CEUS-Rock LF CE x V/H, rev 3", "g": 3, "f": 50.6, "v": 2.19e-5}
    ]
  },
  "vconcat": [
    {
      "hconcat": [
        {
          "width": 554,
          "height": 482,
          "title": {"text": "NRG-CSM (X)", "fontSize": 29, "offset": -49, "dx": -6},
          "data": {"name": "X"},
          "mark": {"type": "line", "strokeWidth": 3, "clip": true},
          "encoding": {
            "x": {
              "field": "f", "type": "quantitative",
              "scale": {"type": "log", "domain": [0.1, 100]},
              "axis": {
                "values": [0.1,0.2,0.3,0.4,0.5,0.6,0.7,0.8,0.9,1,2,3,4,5,6,7,8,9,10,20,30,40,50,60,70,80,90,100],
                "labelExpr": "abs(log(datum.value)/LN10 - round(log(datum.value)/LN10)) < 0.001 ? format(datum.value, '~g') : ''",
                "gridColor": {"condition": {"test": "abs(log(datum.value)/LN10 - round(log(datum.value)/LN10)) < 0.001", "value": "#8a8a8a"}, "value": "#c6c6c6"},
                "tickSize": 5,
                "labelFontSize": 16,
                "labelPadding": 8,
                "title": "Frequency (Hz)",
                "titleFontSize": 18,
                "titlePadding": 6
              }
            },
            "y": {
              "field": "v", "type": "quantitative",
              "scale": {"type": "log", "domain": [1e-7, 1e-2]},
              "axis": {
                "values": [1e-7,2e-7,3e-7,4e-7,5e-7,6e-7,7e-7,8e-7,9e-7,1e-6,2e-6,3e-6,4e-6,5e-6,6e-6,7e-6,8e-6,9e-6,1e-5,2e-5,3e-5,4e-5,5e-5,6e-5,7e-5,8e-5,9e-5,1e-4,2e-4,3e-4,4e-4,5e-4,6e-4,7e-4,8e-4,9e-4,1e-3,2e-3,3e-3,4e-3,5e-3,6e-3,7e-3,8e-3,9e-3,1e-2],
                "labelExpr": "abs(log(datum.value)/LN10 - round(log(datum.value)/LN10)) < 0.001 ? '1.E-0' + round(-log(datum.value)/LN10) : ''",
                "gridColor": {"condition": {"test": "abs(log(datum.value)/LN10 - round(log(datum.value)/LN10)) < 0.001", "value": "#8a8a8a"}, "value": "transparent"},
                "tickSize": {"condition": {"test": "abs(log(datum.value)/LN10 - round(log(datum.value)/LN10)) < 0.001", "value": 5}, "value": -4},
                "labelFontSize": 16,
                "labelPadding": 7,
                "title": "PSD (m2/sec3)",
                "titleFontSize": 17,
                "titlePadding": 27
              }
            },
            "color": {
              "field": "s", "type": "nominal",
              "scale": {
                "domain": ["Smooth PSD, X direction", "70% CEUS-Rock, LF&HF CE, rev 4", "80% CEUS-Rock HF CE, rev 3", "80% CEUS-Rock LF CE, rev 3"],
                "range": ["#ff0000", "#0066ff", "#00b050", "#8eac52"]
              },
              "legend": {"legendX": 11, "legendY": 379, "labelFontSize": 18, "rowPadding": 2, "symbolOffset": 18}
            },
            "detail": {"field": "g", "type": "nominal"}
          }
        },
        {
          "width": 548,
          "height": 479,
          "title": {"text": "NRG-CSM (Y)", "fontSize": 29, "offset": -48, "dx": -13},
          "data": {"name": "Y"},
          "mark": {"type": "line", "strokeWidth": 3, "clip": true},
          "encoding": {
            "x": {
              "field": "f", "type": "quantitative",
              "scale": {"type": "log", "domain": [0.1, 100]},
              "axis": {
                "values": [0.1,0.2,0.3,0.4,0.5,0.6,0.7,0.8,0.9,1,2,3,4,5,6,7,8,9,10,20,30,40,50,60,70,80,90,100],
                "labelExpr": "abs(log(datum.value)/LN10 - round(log(datum.value)/LN10)) < 0.001 ? format(datum.value, '~g') : ''",
                "gridColor": {"condition": {"test": "abs(log(datum.value)/LN10 - round(log(datum.value)/LN10)) < 0.001", "value": "#8a8a8a"}, "value": "#c6c6c6"},
                "tickSize": 5,
                "labelFontSize": 16,
                "labelPadding": 8,
                "title": "Frequency (Hz)",
                "titleFontSize": 18,
                "titlePadding": 6
              }
            },
            "y": {
              "field": "v", "type": "quantitative",
              "scale": {"type": "log", "domain": [1e-6, 1e-2]},
              "axis": {
                "values": [1e-6,2e-6,3e-6,4e-6,5e-6,6e-6,7e-6,8e-6,9e-6,1e-5,2e-5,3e-5,4e-5,5e-5,6e-5,7e-5,8e-5,9e-5,1e-4,2e-4,3e-4,4e-4,5e-4,6e-4,7e-4,8e-4,9e-4,1e-3,2e-3,3e-3,4e-3,5e-3,6e-3,7e-3,8e-3,9e-3,1e-2],
                "labelExpr": "abs(log(datum.value)/LN10 - round(log(datum.value)/LN10)) < 0.001 ? '1.E-0' + round(-log(datum.value)/LN10) : ''",
                "gridColor": {"condition": {"test": "abs(log(datum.value)/LN10 - round(log(datum.value)/LN10)) < 0.001", "value": "#8a8a8a"}, "value": "transparent"},
                "tickSize": {"condition": {"test": "abs(log(datum.value)/LN10 - round(log(datum.value)/LN10)) < 0.001", "value": 5}, "value": -4},
                "labelFontSize": 16,
                "labelPadding": 17,
                "title": null
              }
            },
            "color": {
              "field": "s", "type": "nominal",
              "scale": {
                "domain": ["Smooth PSD, Y direction", "70% CEUS-Rock, LF&HF CE, rev 4", "80% CEUS-Rock HF CE, rev 3", "80% CEUS-Rock LF CE, rev 3"],
                "range": ["#ff0000", "#0066ff", "#4a76b0", "#8eac52"]
              },
              "legend": {"legendX": 10, "legendY": 366, "labelFontSize": 18, "rowPadding": 5, "symbolOffset": 8}
            },
            "detail": {"field": "g", "type": "nominal"}
          }
        }
      ],
      "spacing": 15,
      "resolve": {"scale": {"color": "independent"}, "legend": {"color": "independent"}}
    },
    {
      "hconcat": [
        {
          "width": 215,
          "height": 10,
          "data": {"values": []},
          "mark": {"type": "point", "opacity": 0},
          "encoding": {}
        },
        {
          "width": 534,
          "height": 467,
          "title": {"text": "NRG-CSM (Z)", "fontSize": 28, "offset": -51, "dx": -20},
          "data": {"name": "Z"},
          "mark": {"type": "line", "strokeWidth": 3, "clip": true},
          "encoding": {
            "x": {
              "field": "f", "type": "quantitative",
              "scale": {"type": "log", "domain": [0.1, 100]},
              "axis": {
                "values": [0.1,0.2,0.3,0.4,0.5,0.6,0.7,0.8,0.9,1,2,3,4,5,6,7,8,9,10,20,30,40,50,60,70,80,90,100],
                "labelExpr": "abs(log(datum.value)/LN10 - round(log(datum.value)/LN10)) < 0.001 ? format(datum.value, '~g') : ''",
                "gridColor": {"condition": {"test": "abs(log(datum.value)/LN10 - round(log(datum.value)/LN10)) < 0.001", "value": "#8a8a8a"}, "value": "#c6c6c6"},
                "tickSize": 5,
                "labelFontSize": 17,
                "labelPadding": 8,
                "title": "Frequency (Hz)",
                "titleFontSize": 17,
                "titlePadding": 6
              }
            },
            "y": {
              "field": "v", "type": "quantitative",
              "scale": {"type": "log", "domain": [1e-7, 1e-2]},
              "axis": {
                "values": [1e-7,2e-7,3e-7,4e-7,5e-7,6e-7,7e-7,8e-7,9e-7,1e-6,2e-6,3e-6,4e-6,5e-6,6e-6,7e-6,8e-6,9e-6,1e-5,2e-5,3e-5,4e-5,5e-5,6e-5,7e-5,8e-5,9e-5,1e-4,2e-4,3e-4,4e-4,5e-4,6e-4,7e-4,8e-4,9e-4,1e-3,2e-3,3e-3,4e-3,5e-3,6e-3,7e-3,8e-3,9e-3,1e-2],
                "labelExpr": "abs(log(datum.value)/LN10 - round(log(datum.value)/LN10)) < 0.001 ? '1.E-0' + round(-log(datum.value)/LN10) : ''",
                "gridColor": {"condition": {"test": "abs(log(datum.value)/LN10 - round(log(datum.value)/LN10)) < 0.001", "value": "#8a8a8a"}, "value": "transparent"},
                "tickSize": {"condition": {"test": "abs(log(datum.value)/LN10 - round(log(datum.value)/LN10)) < 0.001", "value": 5}, "value": -4},
                "labelFontSize": 17,
                "labelPadding": 11,
                "title": "PSD (m2/sec3)",
                "titleFontSize": 17,
                "titlePadding": 16
              }
            },
            "color": {
              "field": "s", "type": "nominal",
              "scale": {
                "domain": ["Smooth PSD, Z direction", "70% CEUS-Rock LF&HF CE x V/H, rev 4", "80% CEUS-Rock HF CE x V/H, rev 3", "80% CEUS-Rock LF CE x V/H, rev 3"],
                "range": ["#ff0000", "#0066ff", "#4a76b0", "#8eac52"]
              },
              "legend": {"legendX": 14, "legendY": 361, "labelFontSize": 16, "rowPadding": 4, "symbolOffset": 12}
            },
            "detail": {"field": "g", "type": "nominal"}
          }
        }
      ],
      "spacing": 0,
      "resolve": {"scale": {"color": "independent"}, "legend": {"color": "independent"}}
    }
  ],
  "spacing": 42,
  "resolve": {"scale": {"color": "independent"}, "legend": {"color": "independent"}}
}
